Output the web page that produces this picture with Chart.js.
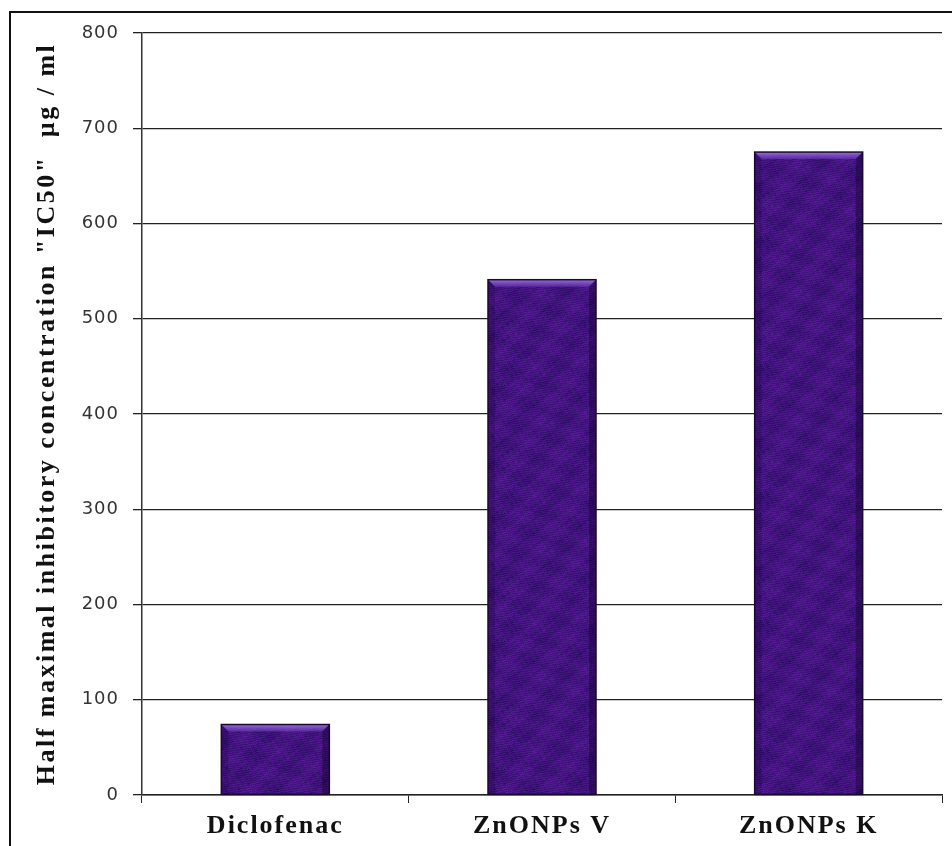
<!DOCTYPE html>
<html>
<head>
<meta charset="utf-8">
<script src="https://cdn.jsdelivr.net/npm/chart.js@4/dist/chart.umd.min.js"></script>
<style>
  html, body { margin: 0; padding: 0; background: #fff; }
  #wrap { position: relative; width: 952px; height: 846px; }
  #frame { position: absolute; left: 9px; top: 11px; right: -4px; bottom: -4px;
           border-left: 2px solid #111; border-top: 2px solid #111; pointer-events: none; }
  canvas { position: absolute; left: 0; top: 0; }
</style>
</head>
<body>
<div id="wrap">
  <canvas id="chart" width="952" height="846"></canvas>
  <div id="frame"></div>
</div>
<script>
// IC50 values per sample
const categories = ['Diclofenac', 'ZnONPs V', 'ZnONPs K'];
const ic50Values = [74, 541, 675];
const yTicks = [0, 100, 200, 300, 400, 500, 600, 700, 800];
const yTitle = 'Half maximal inhibitory concentration "IC50"  µg / ml';

// mottled purple fill for the bars (periodic so the tile has no seams)
function makeTexture() {
  const N = 128;
  const c = document.createElement('canvas');
  c.width = N; c.height = N;
  const g = c.getContext('2d');
  const img = g.createImageData(N, N);
  const T = 2 * Math.PI / N;
  for (let y = 0; y < N; y++) {
    for (let x = 0; x < N; x++) {
      const smooth = Math.sin(T * (3 * x + 2 * y)) * 0.35
                   + Math.cos(T * (5 * y - 2 * x)) * 0.3
                   + Math.sin(T * (7 * x + 9 * y) + 1.3) * 0.2
                   + Math.sin(T * (17 * x + 4 * y) + 2.1) * Math.cos(T * (3 * x - 15 * y)) * 0.35;
      const fine = ((Math.sin(x * 12.9898 + y * 78.233) * 43758.5453) % 1);
      const v = smooth * 14 + fine * 16;
      const i = (y * N + x) * 4;
      img.data[i]     = Math.max(0, Math.min(255, 66 + v));
      img.data[i + 1] = Math.max(0, Math.min(255, 20 + v * 0.35));
      img.data[i + 2] = Math.max(0, Math.min(255, 126 + v * 1.1));
      img.data[i + 3] = 255;
    }
  }
  g.putImageData(img, 0, 0);
  return g.createPattern(c, 'repeat');
}

// bevelled top edge and dark outline on each bar
const bevelPlugin = {
  id: 'bevel',
  afterDatasetsDraw(chart) {
    const ctx = chart.ctx;
    chart.getDatasetMeta(0).data.forEach(bar => {
      const l = bar.x - bar.width / 2, r = bar.x + bar.width / 2;
      const t = bar.y, b = bar.base, d = 7;
      ctx.save();
      ctx.beginPath();
      ctx.moveTo(l, t); ctx.lineTo(r, t); ctx.lineTo(r - d, t + d); ctx.lineTo(l + d, t + d); ctx.closePath();
      const gr = ctx.createLinearGradient(0, t, 0, t + d);
      gr.addColorStop(0, 'rgba(170,130,230,0.85)');
      gr.addColorStop(1, 'rgba(120,70,200,0.45)');
      ctx.fillStyle = gr; ctx.fill();
      ctx.beginPath();
      ctx.moveTo(l, t); ctx.lineTo(l + d, t + d); ctx.lineTo(l + d, b); ctx.lineTo(l, b); ctx.closePath();
      ctx.fillStyle = 'rgba(20,0,50,0.22)'; ctx.fill();
      ctx.beginPath();
      ctx.moveTo(r, t); ctx.lineTo(r - d, t + d); ctx.lineTo(r - d, b); ctx.lineTo(r, b); ctx.closePath();
      ctx.fillStyle = 'rgba(10,0,30,0.35)'; ctx.fill();
      ctx.strokeStyle = '#1a0833'; ctx.lineWidth = 1.5;
      ctx.strokeRect(l, t, r - l, b - t);
      ctx.restore();
    });
  }
};

// wider letter spacing for axis labels and the axis title
function spaced(fn, spacing) {
  return function (...args) {
    const ctx = this.ctx;
    ctx.save();
    ctx.letterSpacing = spacing;
    fn.apply(this, args);
    ctx.restore();
  };
}
const spacingPlugin = {
  id: 'spacing',
  beforeDraw(chart) {
    const x = chart.scales.x, y = chart.scales.y;
    if (!x._spaced) { x.drawLabels = spaced(x.drawLabels, '2px'); x._spaced = true; }
    if (!y._spaced) {
      y.drawLabels = spaced(y.drawLabels, '1px');
      y.drawTitle = spaced(y.drawTitle, '2.5px');
      y._spaced = true;
    }
  }
};

new Chart(document.getElementById('chart'), {
  type: 'bar',
  data: {
    labels: categories,
    datasets: [{
      data: ic50Values,
      backgroundColor: makeTexture(),
      borderWidth: 0,
      barPercentage: 0.405,
      categoryPercentage: 1.0
    }]
  },
  options: {
    responsive: false,
    animation: false,
    layout: { padding: { top: 33, right: 10, left: 0, bottom: 0 } },
    plugins: { legend: { display: false }, tooltip: { enabled: false } },
    scales: {
      x: {
        afterFit(s) { s.height = 51; },
        grid: { drawOnChartArea: false, drawTicks: true, tickLength: 8, color: '#222', offset: true },
        border: { color: '#222', width: 1.5 },
        ticks: { color: '#111', padding: 8, font: { family: 'Liberation Serif', size: 26, weight: 'bold' } }
      },
      y: {
        min: 0, max: 800,
        afterFit(s) { s.width = 142; },
        afterBuildTicks(s) { s.ticks = yTicks.map(v => ({ value: v })); },
        grid: { color: '#222', lineWidth: 1.3, tickLength: 9 },
        border: { color: '#333', width: 1.5 },
        ticks: { color: '#333', padding: 14, font: { family: 'DejaVu Sans', size: 18 } },
        title: {
          display: true, text: yTitle, color: '#111',
          padding: { top: 32, bottom: 0 },
          font: { family: 'Liberation Serif', size: 26, weight: 'bold' }
        }
      }
    }
  },
  plugins: [bevelPlugin, spacingPlugin]
});
</script>
</body>
</html>
